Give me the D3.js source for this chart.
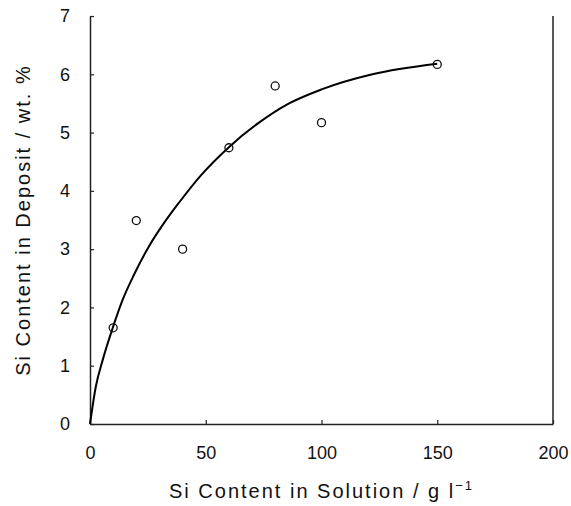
<!DOCTYPE html>
<html lang="en">
<head>
<meta charset="utf-8">
<script src="https://d3js.org/d3.v7.min.js"></script>
<style>
  body { margin: 0; background: #fff; }
  svg text { font-family: "Liberation Sans", Arial, sans-serif; fill: #111; }
</style>
</head>
<body>
<script>
// measured points
var solSi = [10, 20, 40, 60, 80, 100, 150];
var depSi = [1.65, 3.49, 3.0, 4.74, 5.80, 5.17, 6.17];

// fitted curve
var fitX = [0, 2.5, 5.5, 10, 14, 19, 25.5, 32, 38.5, 48, 60, 73, 86, 100, 122, 150];
var fitY = [0, 0.64, 1.1, 1.67, 2.12, 2.56, 3.05, 3.45, 3.8, 4.27, 4.75, 5.17, 5.5, 5.74, 6.0, 6.18];

var xTicks = [0, 50, 100, 150, 200];
var yTicks = [0, 1, 2, 3, 4, 5, 6, 7];

var w = 571, h = 506;
var padL = 90, padR = 553, padT = 16, padB = 424;

var svg = d3.select("body").append("svg")
  .attr("width", w)
  .attr("height", h);

var x = d3.scaleLinear().domain([0, 200]).range([padL, padR]);
var y = d3.scaleLinear().domain([0, 7]).range([padB, padT]);

// axes, ticks point inward
svg.append("g")
  .attr("transform", "translate(" + padL + ",0)")
  .call(d3.axisLeft(y).tickValues(yTicks).tickFormat(d3.format("d"))
    .tickSizeInner(-4).tickSizeOuter(0).tickPadding(20));

svg.append("g")
  .attr("transform", "translate(0," + padB + ")")
  .call(d3.axisBottom(x).tickValues(xTicks).tickFormat(d3.format("d"))
    .tickSizeInner(-4).tickSizeOuter(0).tickPadding(22));

svg.selectAll(".domain").attr("stroke", "#222").attr("stroke-width", 1.5);
svg.selectAll(".tick line").attr("stroke", "#222").attr("stroke-width", 1.2);
svg.selectAll(".tick text")
  .style("font-size", "18px")
  .style("font-family", "'Liberation Sans', Arial, sans-serif")
  .attr("fill", "#111");

// right border
svg.append("line")
  .attr("x1", x(200)).attr("x2", x(200))
  .attr("y1", y(7)).attr("y2", y(0))
  .attr("stroke", "#222")
  .attr("stroke-width", 1.5);

// fit curve
var line = d3.line()
  .x(function(d, i) { return x(fitX[i]); })
  .y(function(d, i) { return y(fitY[i]); })
  .curve(d3.curveMonotoneX);

svg.append("path")
  .attr("d", line(fitX))
  .attr("fill", "none")
  .attr("stroke", "#000")
  .attr("stroke-width", 2);

// data points
svg.selectAll("circle.pt")
  .data(solSi)
  .enter()
  .append("circle")
  .attr("class", "pt")
  .attr("cx", function(d) { return x(d); })
  .attr("cy", function(d, i) { return y(depSi[i]); })
  .attr("r", 4)
  .attr("fill", "none")
  .attr("stroke", "#111")
  .attr("stroke-width", 1.3);

// axis titles
var xt = svg.append("text")
  .attr("x", (padL + padR) / 2)
  .attr("y", 498)
  .attr("text-anchor", "middle")
  .style("font-size", "20px")
  .style("letter-spacing", "2px");
xt.append("tspan").text("Si Content in Solution / g l");
xt.append("tspan").attr("dy", -8).style("font-size", "13px").text("\u22121");

svg.append("text")
  .attr("transform", "translate(30," + ((padT + padB) / 2) + ") rotate(-90)")
  .attr("text-anchor", "middle")
  .style("font-size", "20px")
  .style("letter-spacing", "2px")
  .text("Si Content in Deposit / wt. %");
</script>
</body>
</html>
